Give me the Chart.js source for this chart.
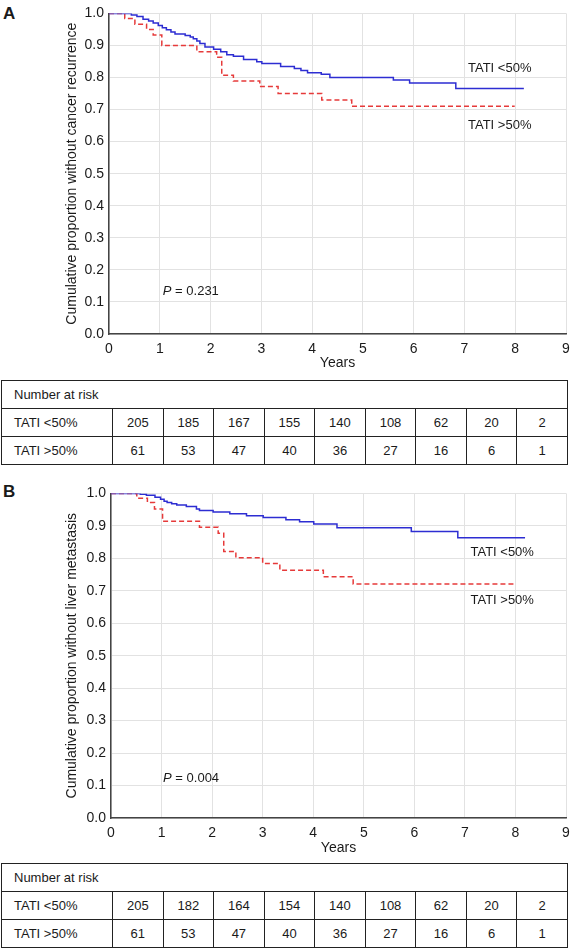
<!DOCTYPE html>
<html>
<head>
<meta charset="utf-8">
<script src="https://cdn.jsdelivr.net/npm/chart.js@4.4.1/dist/chart.umd.min.js"></script>
<style>
  body { margin: 0; background: #fff; width: 570px; height: 950px; position: relative; overflow: hidden;
         font-family: "Liberation Sans", Arial, sans-serif; color: #1a1a1a; }
  .box { position: absolute; left: 0; width: 570px; }
  .tag { position: absolute; left: 3px; font-weight: bold; font-size: 17px; line-height: 20px; }
  table.risk { position: absolute; left: 1px; width: 567px; border-collapse: collapse; table-layout: fixed;
               font-size: 13px; border: 1.5px solid #222; }
  table.risk td { border: 1px solid #222; height: 27px; padding: 0; text-align: center; }
  table.risk td.name { text-align: left; padding-left: 12px; }
</style>
</head>
<body>

<div class="tag" style="top:4px">A</div>
<div class="box" style="top:0;height:373px"><canvas id="chartA" width="570" height="373"></canvas></div>
<table class="risk" id="riskA" style="top:380px"></table>

<div class="tag" style="top:482px">B</div>
<div class="box" style="top:480px;height:378px"><canvas id="chartB" width="570" height="378"></canvas></div>
<table class="risk" id="riskB" style="top:863px"></table>

<script>
'use strict';

// ── DATA ─────────────────────────────────────────────────────
// Kaplan–Meier steps: time (years) of each drop and survival after it

const A_LOW_T  = [0, 0.44, 0.55, 0.67, 0.78, 0.87, 0.97, 1.05, 1.13, 1.22, 1.30, 1.50, 1.60, 1.66, 1.73, 1.79, 1.89,
                  2.06, 2.20, 2.32, 2.45, 2.65, 2.91, 3.01, 3.38, 3.65, 3.78, 3.91, 4.18, 4.35, 5.60, 5.92, 6.83, 8.17];
const A_LOW_S  = [1.0, 0.995, 0.990, 0.982, 0.976, 0.970, 0.962, 0.955, 0.949, 0.942, 0.936, 0.931, 0.926, 0.921, 0.914, 0.906, 0.895,
                  0.888, 0.880, 0.871, 0.866, 0.856, 0.849, 0.844, 0.834, 0.828, 0.822, 0.815, 0.810, 0.800, 0.792, 0.783, 0.766, 0.766];
const A_HIGH_T = [0, 0.31, 0.51, 0.74, 0.87, 1.04, 1.73, 2.12, 2.22, 2.45, 2.97, 3.33, 4.19, 4.78, 7.99];
const A_HIGH_S = [1.0, 0.984, 0.966, 0.950, 0.933, 0.900, 0.880, 0.863, 0.807, 0.789, 0.772, 0.750, 0.730, 0.710, 0.710];

const B_LOW_T  = [0, 0.58, 0.70, 0.87, 0.98, 1.05, 1.11, 1.20, 1.30, 1.49, 1.69, 1.75, 2.02, 2.35, 2.68, 3.01,
                  3.46, 3.73, 4.01, 4.47, 5.94, 6.86, 8.19];
const B_LOW_S  = [1.0, 0.997, 0.994, 0.988, 0.982, 0.976, 0.972, 0.968, 0.964, 0.960, 0.952, 0.947, 0.943, 0.937, 0.931, 0.926,
                  0.919, 0.913, 0.906, 0.894, 0.883, 0.863, 0.863];
const B_HIGH_T = [0, 0.51, 0.72, 0.86, 1.02, 1.75, 2.12, 2.23, 2.47, 3.00, 3.34, 4.20, 4.79, 7.98];
const B_HIGH_S = [1.0, 0.985, 0.972, 0.952, 0.914, 0.896, 0.877, 0.821, 0.802, 0.784, 0.763, 0.743, 0.721, 0.721];

const GROUPS = ['TATI <50%', 'TATI >50%'];

const RISK_A_LOW  = [205, 185, 167, 155, 140, 108, 62, 20, 2];
const RISK_A_HIGH = [61, 53, 47, 40, 36, 27, 16, 6, 1];
const RISK_B_LOW  = [205, 182, 164, 154, 140, 108, 62, 20, 2];
const RISK_B_HIGH = [61, 53, 47, 40, 36, 27, 16, 6, 1];

// ── STYLE ────────────────────────────────────────────────────

const FAMILY = '"Liberation Sans", Arial, sans-serif';
const FONT = { family: FAMILY, size: 14 };
const INK = '#1a1a1a';
const GRID_COLOR = '#e2e2e2';
const BLUE = '#2d2dd2';
const RED = '#e63a3a';

const toPoints = (t, s) => t.map((x, i) => ({ x, y: s[i] }));

// text notes placed in data coordinates
const notesPlugin = {
  id: 'notes',
  afterDraw(chart, args, opts) {
    const { ctx, scales: { x, y } } = chart;
    ctx.save();
    ctx.fillStyle = INK;
    ctx.textBaseline = 'middle';
    opts.items.forEach(n => {
      let px = x.getPixelForValue(n.x);
      const py = y.getPixelForValue(n.y);
      if (n.italic) {
        ctx.font = 'italic 13px ' + FAMILY;
        ctx.fillText(n.italic, px, py);
        px += ctx.measureText(n.italic).width;
      }
      ctx.font = '13px ' + FAMILY;
      ctx.fillText(n.text, px, py);
    });
    ctx.restore();
  },
};

function kmChart(id, lowPts, highPts, yTitle, axisW, axisH, padTop, notes) {
  new Chart(document.getElementById(id), {
    type: 'line',
    data: {
      datasets: [
        {
          label: GROUPS[0],
          data: lowPts,
          borderColor: BLUE,
          borderWidth: 1.5,
          pointRadius: 0,
          stepped: 'before',
          fill: false,
        },
        {
          label: GROUPS[1],
          data: highPts,
          borderColor: RED,
          borderWidth: 1.5,
          borderDash: [5, 3],
          pointRadius: 0,
          stepped: 'before',
          fill: false,
        },
      ],
    },
    options: {
      responsive: false,
      animation: false,
      layout: { padding: { top: padTop, right: 4, left: 0, bottom: 0 } },
      plugins: { legend: { display: false }, tooltip: { enabled: false }, notes: { items: notes } },
      scales: {
        x: {
          type: 'linear',
          min: 0,
          max: 9,
          afterFit: s => { s.height = axisH; s.paddingLeft = 4; s.paddingRight = 4; },
          grid: { color: GRID_COLOR, drawTicks: false },
          border: { color: '#444', width: 1.5 },
          ticks: { stepSize: 1, font: FONT, color: INK, padding: 7, maxRotation: 0 },
          title: { display: true, text: 'Years', font: FONT, color: INK, padding: { top: 0, bottom: 1 } },
        },
        y: {
          min: 0,
          max: 1,
          afterFit: s => { s.width = axisW; },
          grid: { color: GRID_COLOR, drawTicks: false },
          border: { color: '#444', width: 1.5 },
          ticks: { stepSize: 0.1, font: FONT, color: INK, padding: 5, callback: v => v.toFixed(1) },
          title: { display: true, text: yTitle, font: FONT, color: INK, padding: { top: 64, bottom: 0 } },
        },
      },
    },
    plugins: [notesPlugin],
  });
}

kmChart('chartA', toPoints(A_LOW_T, A_LOW_S), toPoints(A_HIGH_T, A_HIGH_S),
  'Cumulative proportion without cancer recurrence', 109, 39, 8, [
    { x: 7.07, y: 0.828, text: GROUPS[0] },
    { x: 7.07, y: 0.650, text: GROUPS[1] },
    { x: 1.06, y: 0.132, italic: 'P', text: ' = 0.231' },
  ]);

kmChart('chartB', toPoints(B_LOW_T, B_LOW_S), toPoints(B_HIGH_T, B_HIGH_S),
  'Cumulative proportion without liver metastasis', 111, 40, 11, [
    { x: 7.11, y: 0.817, text: GROUPS[0] },
    { x: 7.11, y: 0.670, text: GROUPS[1] },
    { x: 1.03, y: 0.122, italic: 'P', text: ' = 0.004' },
  ]);

// ── RISK TABLES ──────────────────────────────────────────────

function riskTable(id, low, high) {
  const table = document.getElementById(id);
  let html = '<colgroup><col style="width:111px">' + low.map(() => '<col>').join('') + '</colgroup>';
  html += `<tr><td class="name" colspan="${low.length + 1}">Number at risk</td></tr>`;
  [low, high].forEach((row, i) => {
    html += `<tr><td class="name">${GROUPS[i]}</td>` + row.map(v => `<td>${v}</td>`).join('') + '</tr>';
  });
  table.innerHTML = html;
}

riskTable('riskA', RISK_A_LOW, RISK_A_HIGH);
riskTable('riskB', RISK_B_LOW, RISK_B_HIGH);
</script>
</body>
</html>
